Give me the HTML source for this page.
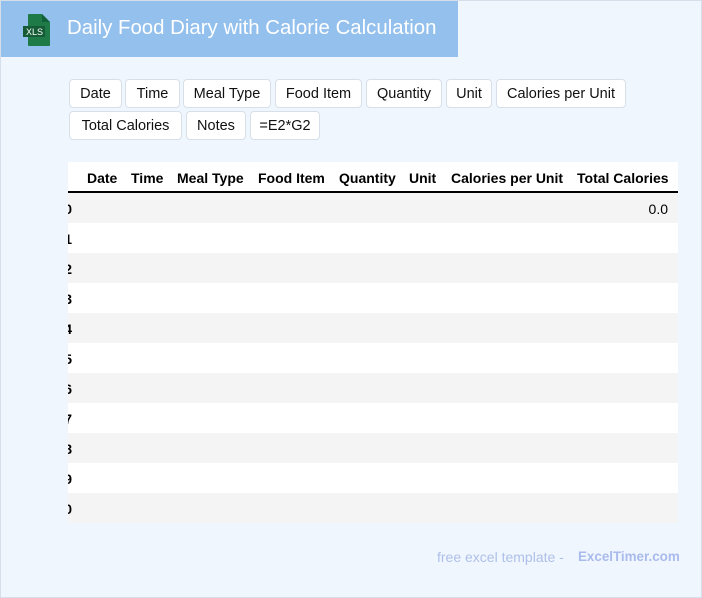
<!DOCTYPE html>
<html><head><meta charset="utf-8"><style>
*{margin:0;padding:0;box-sizing:border-box}
body{width:702px;height:598px;position:relative;overflow:hidden;background:#f0f6fe;font-family:"Liberation Sans",Arial,sans-serif}
.frame{position:absolute;left:0;top:0;width:702px;height:598px;border:1px solid #d6dee9}
.hdr{position:absolute;left:1px;top:1px;width:457px;height:56px;background:#93c0ec}
.title{position:absolute;left:66px;top:16px;font-size:20.4px;color:#fff;white-space:nowrap}
.btn{position:absolute;height:29px;background:#fff;border:1px solid #d7dfe9;border-radius:4px;font-size:14.5px;color:#111;line-height:29px;text-align:center;white-space:nowrap}
.tbl{position:absolute;left:68px;top:162px;width:610px;height:361px;background:#fff;overflow:hidden}
.th{position:absolute;top:8px;font-size:14px;font-weight:bold;color:#000;white-space:nowrap}
.hl{position:absolute;left:0;top:29px;width:610px;height:2px;background:#000}
.row{position:absolute;left:0;width:610px;height:30px}
.idx{position:absolute;right:606px;top:8px;font-size:14px;font-weight:bold;color:#000}
.foot{position:absolute;top:549px;font-size:14px;color:#aebfe9;white-space:nowrap}
</style></head><body>
<div class="frame"></div>
<div class="hdr">
<svg style="position:absolute;left:20px;top:12px" width="32" height="34" viewBox="0 0 32 34">
<path d="M8 1h13l8 8v23a1 1 0 0 1-1 1H8a1 1 0 0 1-1-1V2a1 1 0 0 1 1-1z" fill="#1e7a46"/>
<path d="M21 1v8h8z" fill="#12603a"/>
<rect x="2" y="13" width="22" height="11" fill="#155c36"/>
<text x="5" y="22" font-family="Liberation Sans" font-size="9" fill="#fff">XLS</text>
</svg>
<div class="title">Daily Food Diary with Calorie Calculation</div>
</div>
<div class="btn" style="left:69px;top:79px;width:53px">Date</div>
<div class="btn" style="left:125px;top:79px;width:55px">Time</div>
<div class="btn" style="left:183px;top:79px;width:88px">Meal Type</div>
<div class="btn" style="left:275px;top:79px;width:87px">Food Item</div>
<div class="btn" style="left:366px;top:79px;width:76px">Quantity</div>
<div class="btn" style="left:446px;top:79px;width:46px">Unit</div>
<div class="btn" style="left:496px;top:79px;width:130px">Calories per Unit</div>
<div class="btn" style="left:69px;top:111px;width:113px">Total Calories</div>
<div class="btn" style="left:186px;top:111px;width:60px">Notes</div>
<div class="btn" style="left:250px;top:111px;width:70px">=E2*G2</div>
<div class="tbl">
<div class="th" style="left:19px">Date</div>
<div class="th" style="left:63px">Time</div>
<div class="th" style="left:109px">Meal Type</div>
<div class="th" style="left:190px">Food Item</div>
<div class="th" style="left:271px">Quantity</div>
<div class="th" style="left:341px">Unit</div>
<div class="th" style="left:383px">Calories per Unit</div>
<div class="th" style="left:509px">Total Calories</div>
<div class="hl"></div>
<div class="row" style="top:31px;background:#f4f4f4"><div class="idx">0</div><div style="position:absolute;right:10px;top:8px;font-size:14px">0.0</div></div>
<div class="row" style="top:61px"><div class="idx">1</div></div>
<div class="row" style="top:91px;background:#f4f4f4"><div class="idx">2</div></div>
<div class="row" style="top:121px"><div class="idx">3</div></div>
<div class="row" style="top:151px;background:#f4f4f4"><div class="idx">4</div></div>
<div class="row" style="top:181px"><div class="idx">5</div></div>
<div class="row" style="top:211px;background:#f4f4f4"><div class="idx">6</div></div>
<div class="row" style="top:241px"><div class="idx">7</div></div>
<div class="row" style="top:271px;background:#f4f4f4"><div class="idx">8</div></div>
<div class="row" style="top:301px"><div class="idx">9</div></div>
<div class="row" style="top:331px;background:#f4f4f4"><div class="idx">10</div></div>
</div>
<div style="position:absolute;left:62px;top:193px;width:6px;height:330px;background:#f0f6fe"></div>
<div class="foot" style="left:437px">free excel template -</div>
<div class="foot" style="left:578px;font-weight:bold;color:#a9bbec;font-size:13.4px;top:549px">ExcelTimer.com</div>
</body></html>
